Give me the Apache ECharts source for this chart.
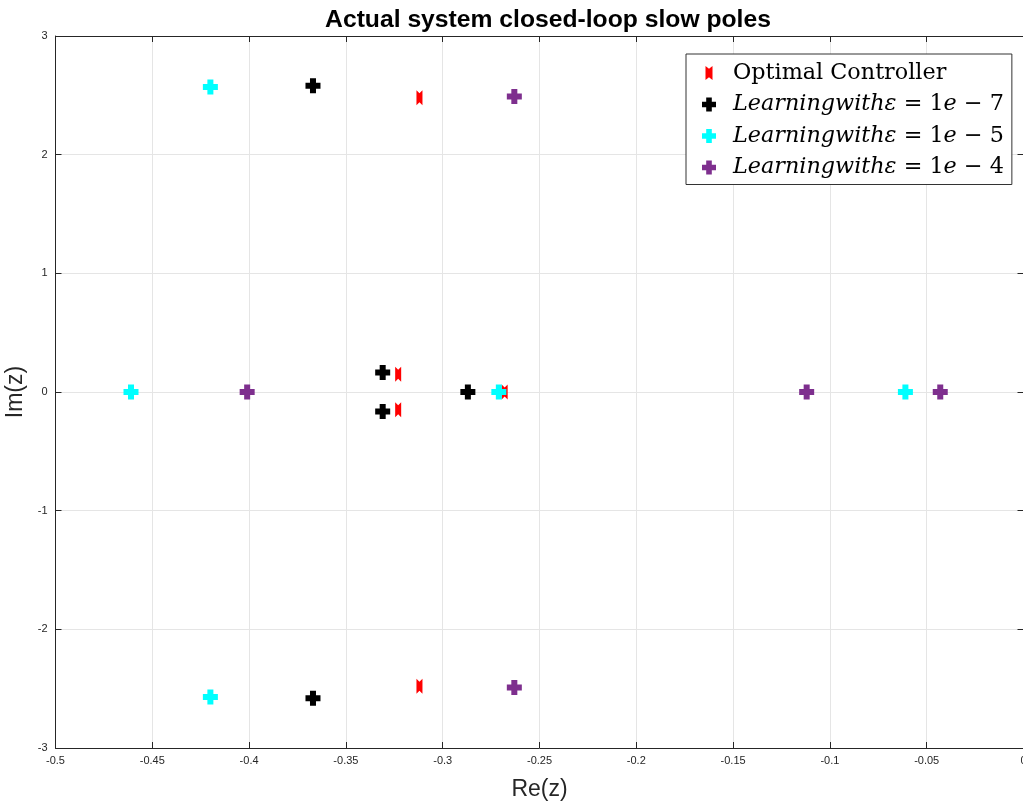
<!DOCTYPE html>
<html>
<head>
<meta charset="utf-8">
<title>Actual system closed-loop slow poles</title>
<script src="https://cdn.jsdelivr.net/npm/echarts@6/dist/echarts.min.js"></script>
<style>
  html, body { margin: 0; padding: 0; background: #fff; }
  #chart { width: 1023px; height: 801px; }
</style>
</head>
<body>
<div id="chart"></div>
<script>
// poles: [Re, Im]
var optimalPoles = [[-0.312, 2.48], [-0.312, -2.48], [-0.323, 0.15], [-0.323, -0.15], [-0.268, 0]];
var eps7Poles = [[-0.367, 2.58], [-0.367, -2.58], [-0.331, 0.165], [-0.331, -0.165], [-0.287, 0]];
var eps5Poles = [[-0.420, 2.57], [-0.420, -2.57], [-0.461, 0], [-0.271, 0], [-0.061, 0]];
var eps4Poles = [[-0.263, 2.49], [-0.263, -2.49], [-0.401, 0], [-0.112, 0], [-0.043, 0]];

var seriesNames = ['Optimal Controller', 'eps7', 'eps5', 'eps4'];
var epsLabels = { eps7: '7', eps5: '5', eps4: '4' };
var colors = ['#ff0000', '#000000', '#00ffff', '#7e2f8e'];

var xTicks = { min: -0.5, max: 0, step: 0.05 };
var yTicks = { min: -3, max: 3, step: 1 };

var plusPath = 'path://M3,0 H7 V3 H10 V7 H7 V10 H3 V7 H0 V3 H3 Z';
var notchPath = 'path://M0,0 L5,4 L10,0 L10,20 L5,16 L0,20 Z';

var chart = echarts.init(document.getElementById('chart'));

var sans = 'Liberation Sans, Arial, Helvetica, sans-serif';
var serif = 'DejaVu Serif, Liberation Serif, serif';
var axisColor = '#262626';

function scatter(name, data, color, symbol, size) {
    return {
        name: name,
        type: 'scatter',
        data: data,
        symbol: symbol,
        symbolSize: size,
        itemStyle: { color: color, opacity: 1 },
        emphasis: { disabled: true }
    };
}

var baseX = {
    type: 'value', min: xTicks.min, max: xTicks.max, interval: xTicks.step,
    axisLine: { show: true, onZero: false, lineStyle: { color: axisColor, width: 1 } },
    axisTick: { show: true, inside: true, length: 6, lineStyle: { color: axisColor } },
    splitLine: { show: false }
};
var baseY = {
    type: 'value', min: yTicks.min, max: yTicks.max, interval: yTicks.step,
    axisLine: { show: true, onZero: false, lineStyle: { color: axisColor, width: 1 } },
    axisTick: { show: true, inside: true, length: 6, lineStyle: { color: axisColor } },
    splitLine: { show: false }
};

var legendFont = 22.3;

var option = {
    backgroundColor: '#ffffff',
    animation: false,
    title: {
        text: 'Actual system closed-loop slow poles',
        left: 543, top: 3, textAlign: 'center',
        textStyle: { fontFamily: sans, fontSize: 24.7, fontWeight: 'bold', color: '#000' }
    },
    grid: { left: 55.5, top: 36, width: 968, height: 712, outerBoundsMode: 'none', containLabel: false },
    legend: {
        orient: 'vertical',
        left: 686, top: 54,
        padding: [8, 8, 6, 16],
        itemGap: 9.5,
        itemWidth: 14, itemHeight: 14,
        backgroundColor: '#ffffff',
        borderColor: '#333333', borderWidth: 1,
        data: seriesNames,
        textStyle: {
            fontFamily: serif, fontSize: legendFont, color: '#000', lineHeight: 22,
            rich: {
                g: { width: 12 },
                i: { fontFamily: serif, fontStyle: 'italic', fontSize: legendFont, color: '#000', lineHeight: 22 },
                r: { fontFamily: serif, fontSize: legendFont, color: '#000', lineHeight: 22 }
            }
        },
        formatter: function (name) {
            if (epsLabels[name]) {
                return '{g|}{i|Learningwithε} {r|= 1}{i|e} {r|− ' + epsLabels[name] + '}';
            }
            return '{g|}{r|' + name + '}';
        }
    },
    xAxis: [
        Object.assign({}, baseX, {
            position: 'bottom',
            name: 'Re(z)', nameLocation: 'middle', nameGap: 30,
            nameTextStyle: { fontFamily: sans, fontSize: 23, color: axisColor },
            axisLabel: { fontFamily: sans, fontSize: 11, color: axisColor, margin: 7 },
            splitLine: { show: true, lineStyle: { color: '#e5e5e5', width: 1 } }
        }),
        Object.assign({}, baseX, { position: 'top', axisLabel: { show: false } })
    ],
    yAxis: [
        Object.assign({}, baseY, {
            position: 'left',
            name: 'Im(z)', nameLocation: 'middle', nameGap: 25,
            nameTextStyle: { fontFamily: sans, fontSize: 23, color: axisColor },
            axisLabel: { fontFamily: sans, fontSize: 11, color: axisColor, margin: 8 },
            splitLine: { show: true, lineStyle: { color: '#e5e5e5', width: 1 } }
        }),
        Object.assign({}, baseY, { position: 'right', axisLabel: { show: false } })
    ],
    series: [
        scatter(seriesNames[0], optimalPoles, colors[0], notchPath, [6, 15]),
        scatter(seriesNames[1], eps7Poles, colors[1], plusPath, 15),
        scatter(seriesNames[2], eps5Poles, colors[2], plusPath, 15),
        scatter(seriesNames[3], eps4Poles, colors[3], plusPath, 15)
    ]
};

// optimal marker should sit beneath the others where they overlap
option.series[0].z = 1;

chart.setOption(option);
</script>
</body>
</html>
